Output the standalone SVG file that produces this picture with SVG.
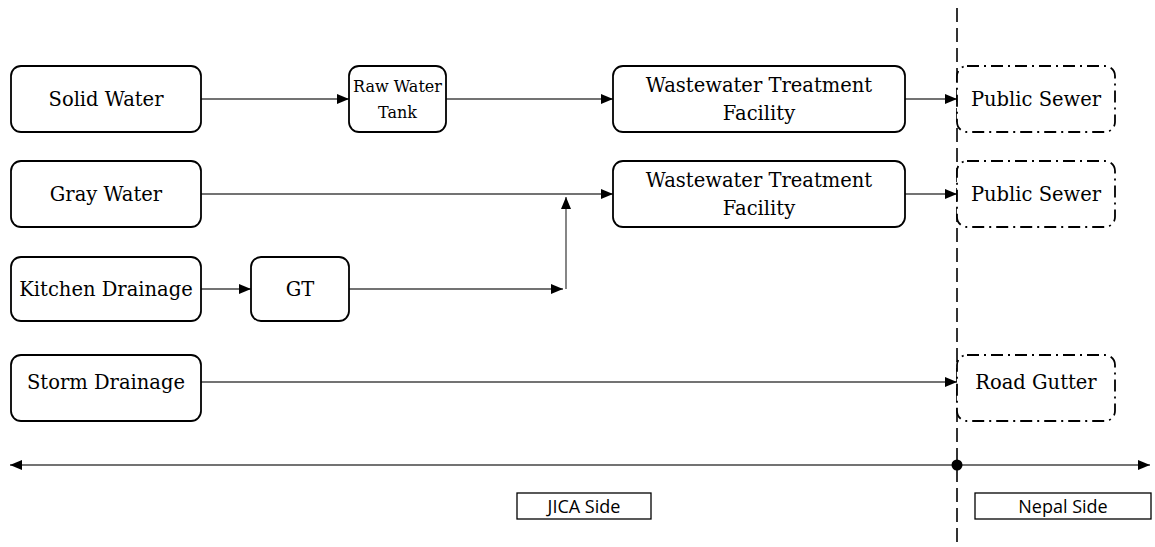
<svg xmlns="http://www.w3.org/2000/svg" width="1155" height="547" viewBox="0 0 1155 547">
<defs>
<marker id="ah" markerWidth="12" markerHeight="10" refX="12" refY="5" orient="auto" markerUnits="userSpaceOnUse">
<path d="M0,0 L12,5 L0,10 Z" fill="#000"/>
</marker>
<marker id="ahs" markerWidth="12" markerHeight="10" refX="12" refY="5" orient="auto-start-reverse" markerUnits="userSpaceOnUse">
<path d="M0,0 L12,5 L0,10 Z" fill="#000"/>
</marker>
<style>
.n{fill:#fff;stroke:#000;stroke-width:1.8}
.d{fill:#fff;stroke:#000;stroke-width:1.8;stroke-dasharray:12,5,2,5}
.t{font-family:"DejaVu Serif","Liberation Serif",serif;font-size:19.5px;fill:#000;text-anchor:middle}
.ts{font-size:16px}
.s{font-family:"Open Sans","Liberation Sans",sans-serif;font-size:18px;fill:#000;text-anchor:middle}
.c{fill:none;stroke:#444;stroke-width:1.3}
.b{fill:#fff;stroke:#000;stroke-width:1.3}
</style>
</defs>
<rect width="1155" height="547" fill="#fff"/>
<g id="connectors">
<line class="c" x1="201" y1="99" x2="349" y2="99" marker-end="url(#ah)"/>
<line class="c" x1="446" y1="99" x2="613" y2="99" marker-end="url(#ah)"/>
<line class="c" x1="905" y1="99" x2="957" y2="99" marker-end="url(#ah)"/>
<line class="c" x1="201" y1="194" x2="613" y2="194" marker-end="url(#ah)"/>
<line class="c" x1="905" y1="194" x2="957" y2="194" marker-end="url(#ah)"/>
<line class="c" x1="201" y1="289" x2="251" y2="289" marker-end="url(#ah)"/>
<line class="c" x1="349" y1="289" x2="563" y2="289" marker-end="url(#ah)"/>
<line class="c" x1="566" y1="289" x2="566" y2="197" marker-end="url(#ah)"/>
<line class="c" x1="201" y1="382" x2="957" y2="382" marker-end="url(#ah)"/>
<line class="c" x1="10" y1="465" x2="1150" y2="465" marker-start="url(#ahs)" marker-end="url(#ahs)"/>
<line x1="957" y1="8" x2="957" y2="547" stroke="#000" stroke-width="1.6" stroke-dasharray="14,6"/>
<circle cx="957" cy="465" r="5.5" fill="#000"/>
</g>
<g id="solid-water"><rect class="n" x="11" y="66" width="190" height="66" rx="10"/><text class="t" x="106" y="106">Solid Water</text></g>
<g id="raw-water-tank"><rect class="n" x="349" y="66" width="97" height="66" rx="10"/><text class="t ts" x="397.5" y="92">Raw Water</text><text class="t ts" x="397.5" y="118">Tank</text></g>
<g id="wtf1"><rect class="n" x="613" y="66" width="292" height="66" rx="10"/><text class="t" x="759" y="92">Wastewater Treatment</text><text class="t" x="759" y="120">Facility</text></g>
<g id="public-sewer1"><rect class="d" x="957" y="66" width="158" height="66" rx="10"/><text class="t" x="1036" y="106">Public Sewer</text></g>
<g id="gray-water"><rect class="n" x="11" y="161" width="190" height="66" rx="10"/><text class="t" x="106" y="201">Gray Water</text></g>
<g id="wtf2"><rect class="n" x="613" y="161" width="292" height="66" rx="10"/><text class="t" x="759" y="187">Wastewater Treatment</text><text class="t" x="759" y="215">Facility</text></g>
<g id="public-sewer2"><rect class="d" x="957" y="161" width="158" height="66" rx="10"/><text class="t" x="1036" y="201">Public Sewer</text></g>
<g id="kitchen-drainage"><rect class="n" x="11" y="257" width="190" height="64" rx="10"/><text class="t" x="106" y="296">Kitchen Drainage</text></g>
<g id="gt"><rect class="n" x="251" y="257" width="98" height="64" rx="10"/><text class="t" x="300" y="296">GT</text></g>
<g id="storm-drainage"><rect class="n" x="11" y="355" width="190" height="66" rx="10"/><text class="t" x="106" y="389">Storm Drainage</text></g>
<g id="road-gutter"><rect class="d" x="957" y="355" width="158" height="66" rx="10"/><text class="t" x="1036" y="389">Road Gutter</text></g>
<g id="jica-side"><rect class="b" x="517" y="493" width="134" height="26"/><text class="s" x="584" y="512.5">JICA Side</text></g>
<g id="nepal-side"><rect class="b" x="975" y="493" width="176" height="26"/><text class="s" x="1063" y="512.5">Nepal Side</text></g>
</svg>
